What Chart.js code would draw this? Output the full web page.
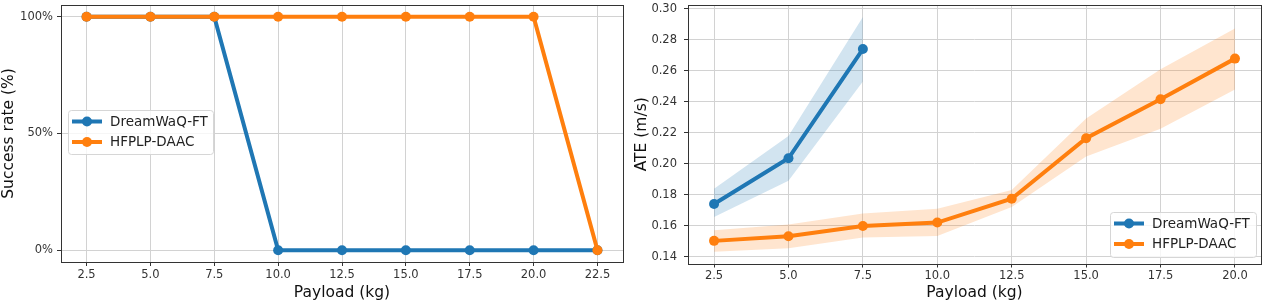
<!DOCTYPE html>
<html>
<head>
<meta charset="utf-8">
<script src="https://cdn.jsdelivr.net/npm/chart.js@4.4.0/dist/chart.umd.min.js"></script>
<style>
  body { margin: 0; background: #fff; width: 1266px; height: 305px; overflow: hidden; position: relative; }
  .panel { position: absolute; top: 0; height: 305px; }
  #leftPanel { left: 0; width: 640px; }
  #rightPanel { left: 630px; width: 636px; }
</style>
</head>
<body>
<div class="panel" id="leftPanel"><canvas id="successChart" width="640" height="305"></canvas></div>
<div class="panel" id="rightPanel"><canvas id="ateChart" width="636" height="305"></canvas></div>
<script>
// success rate panel
var payloadSuccess = [2.5, 5.0, 7.5, 10.0, 12.5, 15.0, 17.5, 20.0, 22.5];
var successDreamWaQ = [100, 100, 100, 0, 0, 0, 0, 0, 0];
var successHFPLP = [100, 100, 100, 100, 100, 100, 100, 100, 0];
var successTicks = [0, 50, 100];

// ATE panel
var payloadDreamWaQ = [2.5, 5.0, 7.5];
var ateDreamWaQ = [0.174, 0.2035, 0.274];
var ateDreamWaQLow = [0.1656, 0.189, 0.2531];
var ateDreamWaQHigh = [0.1838, 0.2179, 0.2947];
var payloadHFPLP = [2.5, 5.0, 7.5, 10.0, 12.5, 15.0, 17.5, 20.0];
var ateHFPLP = [0.1502, 0.1532, 0.1598, 0.162, 0.1774, 0.2164, 0.2416, 0.2678];
var ateHFPLPLow = [0.1432, 0.1454, 0.1524, 0.1534, 0.172, 0.2046, 0.2226, 0.2478];
var ateHFPLPHigh = [0.1571, 0.1607, 0.1678, 0.171, 0.1831, 0.2292, 0.261, 0.2872];
var ateTicks = [0.14, 0.16, 0.18, 0.20, 0.22, 0.24, 0.26, 0.28, 0.30];

var BLUE = '#1f77b4';
var ORANGE = '#ff7f0e';

Chart.defaults.font.family = "'DejaVu Sans', sans-serif";
Chart.defaults.animation = false;

function pts(xs, ys) {
    return xs.map(function (x, i) { return { x: x, y: ys[i] }; });
}

function lineSet(label, xs, ys, color, order) {
    return {
        label: label, data: pts(xs, ys), borderColor: color, backgroundColor: color,
        borderWidth: 4, pointRadius: 5, pointHoverRadius: 5, pointBorderWidth: 0,
        pointBackgroundColor: color, tension: 0, fill: false, order: order
    };
}

function bandSets(xs, lo, hi, fillColor) {
    return [
        { isBand: true, data: pts(xs, lo), borderWidth: 0, pointRadius: 0, fill: false, order: 5 },
        { isBand: true, data: pts(xs, hi), borderWidth: 0, pointRadius: 0, fill: '-1', backgroundColor: fillColor, order: 5 }
    ];
}

// full axes frame like matplotlib spines
var frame = {
    id: 'frame',
    afterDatasetsDraw: function (chart) {
        var a = chart.chartArea, c = chart.ctx;
        c.save();
        c.strokeStyle = '#333';
        c.lineWidth = 1;
        c.strokeRect(Math.round(a.left) + 0.5, Math.round(a.top) + 0.5, Math.round(a.right - a.left), Math.round(a.bottom - a.top));
        c.restore();
    }
};

// legend box placed inside the axes
var boxLegend = {
    id: 'boxLegend',
    afterDraw: function (chart, args, o) {
        var c = chart.ctx;
        var items = chart.data.datasets.filter(function (d) { return !d.isBand; });
        c.save();
        c.beginPath();
        c.roundRect(o.x + 0.5, o.y + 0.5, o.w, o.h, 3);
        c.fillStyle = 'rgba(255,255,255,0.8)';
        c.fill();
        c.strokeStyle = '#d6d6d6';
        c.lineWidth = 1;
        c.stroke();
        items.forEach(function (d, i) {
            var y = o.y + 11.5 + i * 20.5;
            c.strokeStyle = d.borderColor;
            c.lineWidth = 4;
            c.beginPath();
            c.moveTo(o.x + 4, y);
            c.lineTo(o.x + 34, y);
            c.stroke();
            c.fillStyle = d.borderColor;
            c.beginPath();
            c.arc(o.x + 19, y, 5, 0, Math.PI * 2);
            c.fill();
            c.fillStyle = '#222';
            c.font = "13.5px 'DejaVu Sans'";
            c.textBaseline = 'middle';
            c.fillText(d.label, o.x + 42, y + 0.5);
        });
        c.restore();
    }
};

function xScale(min, max, ticks, height) {
    return {
        type: 'linear', min: min, max: max,
        afterBuildTicks: function (s) { s.ticks = ticks.map(function (v) { return { value: v }; }); },
        afterFit: function (s) { s.height = height; s.paddingLeft = 0; s.paddingRight = 0; },
        ticks: { callback: function (v) { return v.toFixed(1); }, font: { size: 11.5 }, color: '#333', padding: 2, maxRotation: 0, autoSkip: false },
        grid: { color: '#d2d2d2', lineWidth: 1, tickColor: '#333', tickLength: 4 },
        border: { display: false },
        title: { display: true, text: 'Payload (kg)', font: { size: 15.5 }, color: '#111', padding: { top: 0, bottom: 3 } }
    };
}

function yScale(min, max, ticks, width, fmt, title, titlePad, labelPad) {
    return {
        type: 'linear', min: min, max: max,
        afterBuildTicks: function (s) { s.ticks = ticks.map(function (v) { return { value: v }; }); },
        afterFit: function (s) { s.width = width; s.paddingTop = 0; s.paddingBottom = 0; },
        ticks: { callback: fmt, font: { size: 11.5 }, color: '#333', padding: labelPad, autoSkip: false },
        grid: { color: '#d2d2d2', lineWidth: 1, tickColor: '#333', tickLength: 4 },
        border: { display: false },
        title: { display: true, text: title, font: { size: 15.5 }, color: '#111', padding: { top: titlePad, bottom: 0 } }
    };
}

var successChart = new Chart(document.getElementById('successChart').getContext('2d'), {
    type: 'line',
    data: {
        datasets: [
            lineSet('DreamWaQ-FT', payloadSuccess, successDreamWaQ, BLUE, 1),
            lineSet('HFPLP-DAAC', payloadSuccess, successHFPLP, ORANGE, 0)
        ]
    },
    options: {
        responsive: false,
        layout: { padding: { left: 0, right: 17, top: 3, bottom: 0 } },
        plugins: {
            legend: { display: false },
            tooltip: { enabled: false },
            boxLegend: { x: 68, y: 110, w: 145, h: 44 }
        },
        scales: {
            x: xScale(1.5, 23.5, payloadSuccess, 43),
            y: yScale(-5, 105, successTicks, 61, function (v) { return v + '%'; }, 'Success rate (%)', 0, 4)
        }
    },
    plugins: [frame, boxLegend]
});

var ateChart = new Chart(document.getElementById('ateChart').getContext('2d'), {
    type: 'line',
    data: {
        datasets: [
            lineSet('DreamWaQ-FT', payloadDreamWaQ, ateDreamWaQ, BLUE, 0),
            lineSet('HFPLP-DAAC', payloadHFPLP, ateHFPLP, ORANGE, 1)
        ].concat(
            bandSets(payloadDreamWaQ, ateDreamWaQLow, ateDreamWaQHigh, 'rgba(31,119,180,0.2)'),
            bandSets(payloadHFPLP, ateHFPLPLow, ateHFPLPHigh, 'rgba(255,127,14,0.2)')
        )
    },
    options: {
        responsive: false,
        layout: { padding: { left: 0, right: 2, top: 3, bottom: 0 } },
        plugins: {
            legend: { display: false },
            tooltip: { enabled: false },
            boxLegend: { x: 480, y: 212, w: 146, h: 45 }
        },
        scales: {
            x: xScale(1.625, 20.875, payloadHFPLP, 41.5),
            y: yScale(0.1356, 0.3024, ateTicks, 58, function (v) { return v.toFixed(2); }, 'ATE (m/s)', 3, 7)
        }
    },
    plugins: [frame, boxLegend]
});
</script>
</body>
</html>
